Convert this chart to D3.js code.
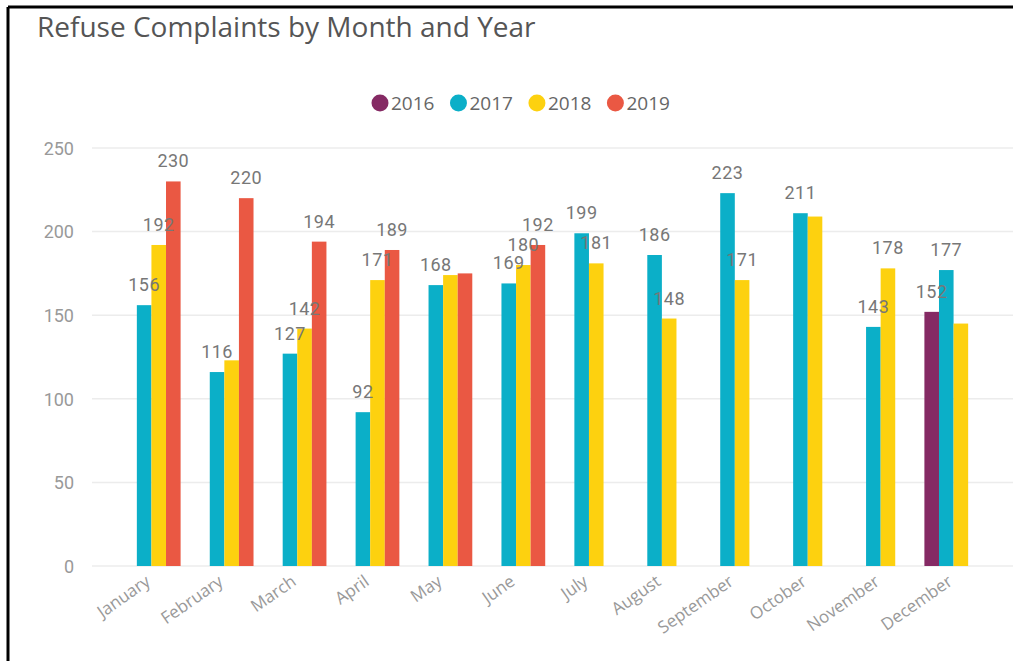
<!DOCTYPE html>
<html lang="en">
<head>
  <meta charset="UTF-8">
  <title>Refuse Complaints by Month and Year</title>
  <script src="https://d3js.org/d3.v7.min.js"></script>
  <style>
    body {
      margin: 0;
      background: #fff;
    }
    svg {
      display: block;
    }
    .title {
      font-family: "Open Sans", sans-serif;
      font-size: 28px;
      fill: #555;
    }
    .legend text {
      font-family: "Open Sans", sans-serif;
      font-size: 19px;
      fill: #666;
    }
    .grid line {
      stroke: #ececec;
      stroke-width: 1.5;
    }
    .y-axis text {
      font-family: Roboto, sans-serif;
      font-size: 18px;
      fill: #999;
    }
    .x-axis text {
      font-family: "Open Sans", sans-serif;
      font-size: 17px;
      fill: #999;
    }
    .label {
      font-family: Roboto, sans-serif;
      font-size: 18px;
      letter-spacing: 0.5px;
      fill: #777;
      text-anchor: middle;
    }
  </style>
</head>
<body>
  <svg id="chart" width="1013" height="661"></svg>

  <script>
    // Data
    const months = ["January", "February", "March", "April", "May", "June",
                    "July", "August", "September", "October", "November", "December"];
    const years = ["2016", "2017", "2018", "2019"];
    const colors = ["#852a64", "#0bafc8", "#fdd10f", "#ea5843"];

    const values2016 = [null, null, null, null, null, null, null, null, null, null, null, 152];
    const values2017 = [156, 116, 127, 92, 168, 169, 199, 186, 223, 211, 143, 177];
    const values2018 = [192, 123, 142, 171, 174, 180, 181, 148, 171, 209, 178, 145];
    const values2019 = [230, 220, 194, 189, 175, 192, null, null, null, null, null, null];

    // labels Power BI dropped because they collided
    const hiddenLabels = [["2018", "February"], ["2018", "May"], ["2019", "May"],
                          ["2018", "October"], ["2018", "December"]];

    const yTicks = [0, 50, 100, 150, 200, 250];

    const series = [values2016, values2017, values2018, values2019];
    const rows = [];
    years.forEach((yr, i) => {
      months.forEach((m, j) => {
        if (series[i][j] != null) rows.push({ year: yr, month: m, value: series[i][j] });
      });
    });
    const isHidden = d => hiddenLabels.some(h => h[0] === d.year && h[1] === d.month);

    const svg = d3.select("#chart");

    // frame (left and top edges only are visible in the screenshot)
    svg.append("line").attr("x1", 8).attr("y1", 7).attr("x2", 1013).attr("y2", 7)
      .attr("stroke", "#000").attr("stroke-width", 3);
    svg.append("line").attr("x1", 8).attr("y1", 7).attr("x2", 8).attr("y2", 661)
      .attr("stroke", "#000").attr("stroke-width", 3);

    svg.append("text")
      .attr("class", "title")
      .attr("x", 37)
      .attr("y", 37)
      .text("Refuse Complaints by Month and Year");

    // Scales
    const x = d3.scaleBand()
      .domain(months)
      .range([92, 1013])
      .paddingInner(0.2)
      .paddingOuter(0.415);

    const xSub = d3.scaleBand()
      .domain(years)
      .range([0, x.bandwidth()]);

    const y = d3.scaleLinear()
      .domain([0, 250])
      .range([566, 148]);

    const color = d3.scaleOrdinal().domain(years).range(colors);

    // Gridlines
    svg.append("g")
      .attr("class", "grid")
      .selectAll("line")
      .data(yTicks)
      .join("line")
      .attr("x1", 92)
      .attr("x2", 1013)
      .attr("y1", d => y(d))
      .attr("y2", d => y(d));

    // Y axis
    const yAxis = svg.append("g")
      .attr("class", "y-axis")
      .attr("transform", "translate(74,0)")
      .call(d3.axisLeft(y).tickValues(yTicks).tickSize(0).tickPadding(0));
    yAxis.select(".domain").remove();
    yAxis.selectAll("text").attr("dy", "0.35em");

    // X axis
    const xAxis = svg.append("g")
      .attr("class", "x-axis")
      .attr("transform", "translate(0,566)")
      .call(d3.axisBottom(x).tickSize(0).tickPadding(0));
    xAxis.select(".domain").remove();
    xAxis.selectAll("text")
      .attr("text-anchor", "end")
      .attr("dy", 0)
      .attr("transform", "translate(0,18) rotate(-35)");

    // Bars
    svg.append("g")
      .selectAll("rect")
      .data(rows)
      .join("rect")
      .attr("x", d => x(d.month) + xSub(d.year))
      .attr("y", d => y(d.value))
      .attr("width", xSub.bandwidth())
      .attr("height", d => y(0) - y(d.value))
      .attr("fill", d => color(d.year));

    // Data labels
    svg.append("g")
      .selectAll("text")
      .data(rows.filter(d => !isHidden(d)))
      .join("text")
      .attr("class", "label")
      .attr("x", d => x(d.month) + xSub(d.year) + xSub.bandwidth() / 2)
      .attr("y", d => y(d.value) - 14)
      .text(d => d.value);

    // Legend
    const legend = svg.append("g").attr("class", "legend").attr("transform", "translate(372,103)");
    let lx = 0;
    years.forEach(yr => {
      const g = legend.append("g").attr("transform", `translate(${lx},0)`);
      g.append("circle").attr("cx", 8).attr("cy", 0).attr("r", 8.5).attr("fill", color(yr));
      const t = g.append("text").attr("x", 19).attr("y", 0).attr("dy", "0.35em").text(yr);
      lx += 19 + t.node().getComputedTextLength() + 16;
    });
  </script>
</body>
</html>
